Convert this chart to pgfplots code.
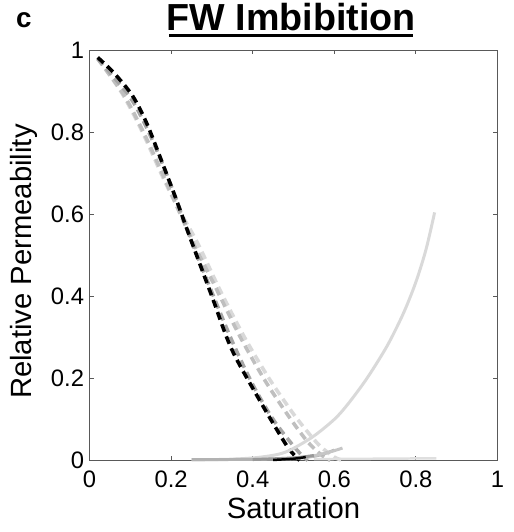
\documentclass[border=0pt]{standalone}
\usepackage{pgfplots}
\pgfplotsset{compat=1.18}
\usepackage{fontspec}
\setmainfont{Liberation Sans}
\definecolor{axgray}{gray}{0.35}
\begin{document}
\begin{tikzpicture}
\begin{axis}[
  scale only axis, width=410bp, height=412bp,
  at={(0,0)}, anchor=south west,
  xmin=0, xmax=1, ymin=0, ymax=1,
  xtick={0,0.2,0.4,0.6,0.8,1}, ytick={0,0.2,0.4,0.6,0.8,1},
  xticklabels={0,0.2,0.4,0.6,0.8,1}, yticklabels={0,0.2,0.4,0.6,0.8,1},
  tick align=inside, major tick length=4bp,
  axis line style={axgray, line width=1.2bp},
  every tick/.style={axgray, line width=0.8bp},
  tick label style={font=\fontsize{24}{25}\selectfont},
  /pgf/number format/assume math mode=true,
  xticklabel style={yshift=-7bp},
  yticklabel style={xshift=-2bp},
  clip=false,
  every axis plot/.append style={smooth, tension=0.5},
]
% oil (dashed)
\addplot[gray!30, line width=3.6bp, dash pattern=on 8bp off 5bp] coordinates {
(0.02,0.98)(0.08,0.895)(0.13,0.80)(0.18,0.69)(0.22,0.61)(0.265,0.53)(0.32,0.415)(0.38,0.30)(0.44,0.20)(0.495,0.12)(0.53,0.075)(0.565,0.035)(0.60,0.008)(0.62,0)};
\addplot[gray!50, line width=3.6bp, dash pattern=on 8bp off 5bp] coordinates {
(0.02,0.98)(0.085,0.89)(0.135,0.795)(0.185,0.685)(0.25,0.54)(0.31,0.42)(0.37,0.30)(0.43,0.195)(0.49,0.105)(0.535,0.045)(0.57,0.012)(0.59,0)};
\addplot[gray!70, line width=3.6bp, dash pattern=on 8bp off 5bp] coordinates {
(0.02,0.98)(0.1,0.885)(0.15,0.79)(0.2,0.67)(0.25,0.535)(0.3,0.41)(0.35,0.29)(0.4,0.185)(0.45,0.10)(0.5,0.035)(0.525,0.008)(0.535,0)};
\addplot[black, line width=3.6bp, dash pattern=on 8bp off 5bp] coordinates {
(0.02,0.983)(0.06,0.945)(0.105,0.89)(0.139,0.825)(0.171,0.745)(0.212,0.638)(0.244,0.55)(0.3,0.40)(0.349,0.27)(0.422,0.138)(0.48,0.041)(0.5,0.015)(0.515,0)};
% water (solid)
\addplot[gray!30, line width=3bp] coordinates {
(0.25,0.001)(0.35,0.003)(0.42,0.008)(0.48,0.02)(0.545,0.056)(0.6,0.1)(0.634,0.138)(0.68,0.2)(0.73,0.28)(0.77,0.36)(0.80,0.435)(0.825,0.515)(0.846,0.605)};
\addplot[gray!25, line width=2.5bp] coordinates {(0.55,0.003)(0.7,0.004)(0.85,0.005)};
\addplot[gray!60, line width=3bp] coordinates {(0.25,0.002)(0.45,0.003)(0.55,0.01)(0.6,0.025)};
\addplot[gray!45, line width=3bp] coordinates {(0.45,0.002)(0.52,0.006)(0.58,0.018)(0.62,0.03)};
\addplot[gray!80, line width=3bp] coordinates {(0.4,0.002)(0.5,0.006)(0.55,0.012)};
\addplot[black, line width=2.5bp] coordinates {(0.45,0.001)(0.5,0.004)(0.53,0.008)};
% labels
\node[anchor=base, font=\fontsize{29.5}{31}\selectfont] at (axis description cs:0.5,-0.143) {Saturation};
\node[anchor=base, rotate=90, font=\fontsize{29.5}{31}\selectfont] at (axis description cs:-0.1415,0.485) {Relative Permeability};
\node[anchor=base, font=\fontsize{38}{40}\selectfont\bfseries] at (axis description cs:0.494,1.0485) {FW Imbibition};
\draw[black, line width=2.5bp] (axis description cs:0.195,1.0364) -- (axis description cs:0.793,1.0364);
\node[anchor=base, font=\fontsize{28}{29}\selectfont\bfseries] at (axis description cs:-0.161,1.056) {c};
\end{axis}
\path[use as bounding box] (-90bp,-72bp) rectangle (426bp,460bp);
\end{tikzpicture}
\end{document}
